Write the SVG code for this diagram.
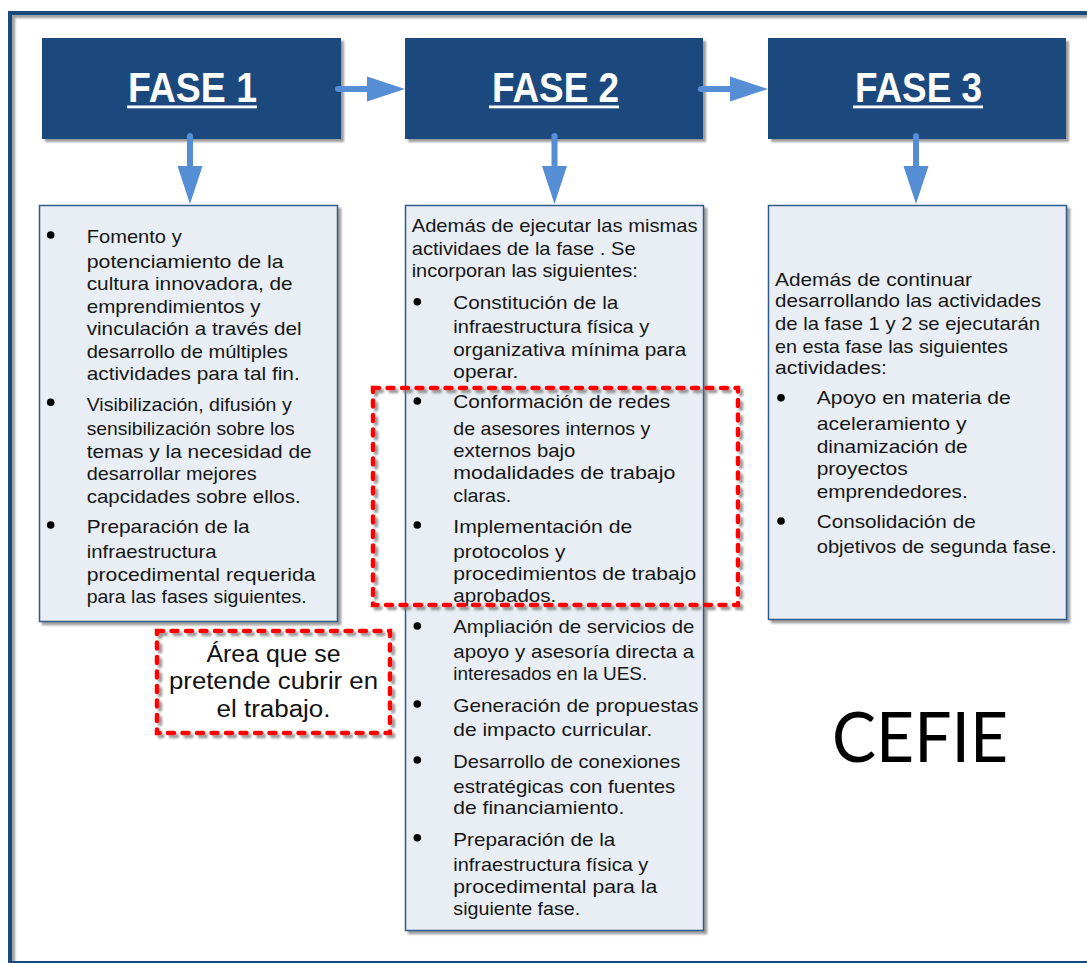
<svg xmlns="http://www.w3.org/2000/svg" width="1087" height="963" viewBox="0 0 1087 963">
  <defs>
    <filter id="shadow" x="-10%" y="-10%" width="120%" height="120%">
      <feDropShadow dx="3" dy="3" stdDeviation="1.2" flood-color="#7a7a7a" flood-opacity="0.75"/>
    </filter>
    <style>
      .frame { fill: none; stroke: #1F497D; stroke-width: 4; }
      .head { fill: #1F497D; }
      .headtxt { font-family: "Liberation Sans", Arial, sans-serif; font-weight: bold; font-size: 42px; fill: #ffffff; }
      .uline { fill: #ffffff; }
      .body { fill: #E8EEF4; stroke: #2F5B8C; stroke-width: 1.5; }
      .t { font-family: "Liberation Sans", Arial, sans-serif; font-size: 19px; fill: #161616; }
      .dot { fill: #000000; }
      .conn { stroke: #558ED5; stroke-width: 6; stroke-linecap: round; fill: none; }
      .tip { fill: #558ED5; }
      .dash { fill: none; stroke: #FF0000; stroke-width: 4.5; stroke-dasharray: 6 8.5; stroke-linecap: round; }
      .note { font-family: "Liberation Sans", Arial, sans-serif; font-size: 23px; fill: #111111; }
      .brand { font-family: Lato, "Liberation Sans", Arial, sans-serif; font-weight: normal; font-size: 70px; fill: #000000; }
    </style>
  </defs>

  <rect width="1087" height="963" fill="#ffffff"/>

  <!-- outer frame -->
  <rect class="frame" x="10" y="13" width="1090" height="950" filter="url(#shadow)"/>

  <!-- phase headers -->
  <g id="fase1">
    <rect class="head" x="42" y="38" width="299" height="101" filter="url(#shadow)"/>
    <text class="headtxt" x="128" y="102" textLength="129" lengthAdjust="spacingAndGlyphs">FASE 1</text>
    <rect class="uline" x="127" y="105.5" width="130" height="2.8"/>
  </g>
  <g id="fase2">
    <rect class="head" x="405" y="38" width="298" height="101" filter="url(#shadow)"/>
    <text class="headtxt" x="492" y="102" textLength="127" lengthAdjust="spacingAndGlyphs">FASE 2</text>
    <rect class="uline" x="489" y="105.5" width="130" height="2.8"/>
  </g>
  <g id="fase3">
    <rect class="head" x="768" y="38" width="298" height="101" filter="url(#shadow)"/>
    <text class="headtxt" x="855" y="102" textLength="127" lengthAdjust="spacingAndGlyphs">FASE 3</text>
    <rect class="uline" x="853" y="105.5" width="130" height="2.8"/>
  </g>

  <!-- phase 1 activities -->
  <g id="actividades1">
    <rect class="body" x="39.5" y="205.5" width="298" height="416" filter="url(#shadow)"/>
    <circle class="dot" cx="50.7" cy="235" r="3.8"/>
    <circle class="dot" cx="50.7" cy="402.3" r="3.8"/>
    <circle class="dot" cx="50.7" cy="525" r="3.8"/>
    <text class="t" x="86.7" y="242.7" textLength="95" lengthAdjust="spacingAndGlyphs">Fomento y</text>
    <text class="t" x="86.7" y="267.7" textLength="197" lengthAdjust="spacingAndGlyphs">potenciamiento de la</text>
    <text class="t" x="86.7" y="290" textLength="206" lengthAdjust="spacingAndGlyphs">cultura innovadora, de</text>
    <text class="t" x="86.7" y="312.7" textLength="174" lengthAdjust="spacingAndGlyphs">emprendimientos y</text>
    <text class="t" x="86.7" y="335" textLength="215" lengthAdjust="spacingAndGlyphs">vinculación a través del</text>
    <text class="t" x="86.7" y="357.7" textLength="201" lengthAdjust="spacingAndGlyphs">desarrollo de múltiples</text>
    <text class="t" x="86.7" y="380" textLength="213" lengthAdjust="spacingAndGlyphs">actividades para tal fin.</text>
    <text class="t" x="86.7" y="411" textLength="205" lengthAdjust="spacingAndGlyphs">Visibilización, difusión y</text>
    <text class="t" x="86.7" y="435.3" textLength="208" lengthAdjust="spacingAndGlyphs">sensibilización sobre los</text>
    <text class="t" x="86.7" y="457.7" textLength="225" lengthAdjust="spacingAndGlyphs">temas y la necesidad de</text>
    <text class="t" x="86.7" y="480" textLength="170" lengthAdjust="spacingAndGlyphs">desarrollar mejores</text>
    <text class="t" x="86.7" y="502.7" textLength="214" lengthAdjust="spacingAndGlyphs">capcidades sobre ellos.</text>
    <text class="t" x="86.7" y="533.3" textLength="163" lengthAdjust="spacingAndGlyphs">Preparación de la</text>
    <text class="t" x="86.7" y="558.3" textLength="130" lengthAdjust="spacingAndGlyphs">infraestructura</text>
    <text class="t" x="86.7" y="581" textLength="229" lengthAdjust="spacingAndGlyphs">procedimental requerida</text>
    <text class="t" x="86.7" y="603.3" textLength="220" lengthAdjust="spacingAndGlyphs">para las fases siguientes.</text>
  </g>

  <!-- phase 2 activities -->
  <g id="actividades2">
    <rect class="body" x="405.5" y="205.5" width="298" height="725" filter="url(#shadow)"/>
    <text class="t" x="411.7" y="232.3" textLength="286" lengthAdjust="spacingAndGlyphs">Además de ejecutar las mismas</text>
    <text class="t" x="411.7" y="255" textLength="224" lengthAdjust="spacingAndGlyphs">actividaes de la fase . Se</text>
    <text class="t" x="411.7" y="277.3" textLength="226" lengthAdjust="spacingAndGlyphs">incorporan las siguientes:</text>
    <circle class="dot" cx="417.3" cy="301.7" r="3.8"/>
    <circle class="dot" cx="417.3" cy="401" r="3.8"/>
    <circle class="dot" cx="417.3" cy="525" r="3.8"/>
    <circle class="dot" cx="417.3" cy="626" r="3.8"/>
    <circle class="dot" cx="417.3" cy="704" r="3.8"/>
    <circle class="dot" cx="417.3" cy="760" r="3.8"/>
    <circle class="dot" cx="417.3" cy="837.7" r="3.8"/>
    <text class="t" x="453.3" y="309" textLength="165" lengthAdjust="spacingAndGlyphs">Constitución de la</text>
    <text class="t" x="453.3" y="333.3" textLength="196" lengthAdjust="spacingAndGlyphs">infraestructura física y</text>
    <text class="t" x="453.3" y="356" textLength="233" lengthAdjust="spacingAndGlyphs">organizativa mínima para</text>
    <text class="t" x="453.3" y="378.3" textLength="65" lengthAdjust="spacingAndGlyphs">operar.</text>
    <text class="t" x="453.3" y="408.3" textLength="217" lengthAdjust="spacingAndGlyphs">Conformación de redes</text>
    <text class="t" x="453.3" y="435" textLength="197" lengthAdjust="spacingAndGlyphs">de asesores internos y</text>
    <text class="t" x="453.3" y="456.7" textLength="122" lengthAdjust="spacingAndGlyphs">externos bajo</text>
    <text class="t" x="453.3" y="479.3" textLength="222" lengthAdjust="spacingAndGlyphs">modalidades de trabajo</text>
    <text class="t" x="453.3" y="501.7" textLength="58" lengthAdjust="spacingAndGlyphs">claras.</text>
    <text class="t" x="453.3" y="532.7" textLength="179" lengthAdjust="spacingAndGlyphs">Implementación de</text>
    <text class="t" x="453.3" y="557.7" textLength="112" lengthAdjust="spacingAndGlyphs">protocolos y</text>
    <text class="t" x="453.3" y="580" textLength="243" lengthAdjust="spacingAndGlyphs">procedimientos de trabajo</text>
    <text class="t" x="453.3" y="601.7" textLength="103" lengthAdjust="spacingAndGlyphs">aprobados.</text>
    <text class="t" x="453.3" y="632.7" textLength="241" lengthAdjust="spacingAndGlyphs">Ampliación de servicios de</text>
    <text class="t" x="453.3" y="657.7" textLength="241" lengthAdjust="spacingAndGlyphs">apoyo y asesoría directa a</text>
    <text class="t" x="453.3" y="680" textLength="194" lengthAdjust="spacingAndGlyphs">interesados en la UES.</text>
    <text class="t" x="453.3" y="711.7" textLength="245" lengthAdjust="spacingAndGlyphs">Generación de propuestas</text>
    <text class="t" x="453.3" y="736" textLength="199" lengthAdjust="spacingAndGlyphs">de impacto curricular.</text>
    <text class="t" x="453.3" y="768.3" textLength="227" lengthAdjust="spacingAndGlyphs">Desarrollo de conexiones</text>
    <text class="t" x="453.3" y="792.7" textLength="222" lengthAdjust="spacingAndGlyphs">estratégicas con fuentes</text>
    <text class="t" x="453.3" y="814.3" textLength="171" lengthAdjust="spacingAndGlyphs">de financiamiento.</text>
    <text class="t" x="453.3" y="845.7" textLength="162" lengthAdjust="spacingAndGlyphs">Preparación de la</text>
    <text class="t" x="453.3" y="870.7" textLength="195" lengthAdjust="spacingAndGlyphs">infraestructura física y</text>
    <text class="t" x="453.3" y="893.3" textLength="204" lengthAdjust="spacingAndGlyphs">procedimental para la</text>
    <text class="t" x="453.3" y="915" textLength="127" lengthAdjust="spacingAndGlyphs">siguiente fase.</text>
  </g>

  <!-- phase 3 activities -->
  <g id="actividades3">
    <rect class="body" x="768.5" y="205.5" width="298" height="414" filter="url(#shadow)"/>
    <text class="t" x="775" y="286" textLength="197" lengthAdjust="spacingAndGlyphs">Además de continuar</text>
    <text class="t" x="775" y="307.3" textLength="266" lengthAdjust="spacingAndGlyphs">desarrollando las actividades</text>
    <text class="t" x="775" y="330" textLength="265" lengthAdjust="spacingAndGlyphs">de la fase 1 y 2 se ejecutarán</text>
    <text class="t" x="775" y="352.7" textLength="233" lengthAdjust="spacingAndGlyphs">en esta fase las siguientes</text>
    <text class="t" x="775" y="374" textLength="112" lengthAdjust="spacingAndGlyphs">actividades:</text>
    <circle class="dot" cx="781" cy="397.7" r="3.8"/>
    <circle class="dot" cx="781" cy="521" r="3.8"/>
    <text class="t" x="816.7" y="404.3" textLength="194" lengthAdjust="spacingAndGlyphs">Apoyo en materia de</text>
    <text class="t" x="816.7" y="430" textLength="150" lengthAdjust="spacingAndGlyphs">aceleramiento y</text>
    <text class="t" x="816.7" y="452.7" textLength="151" lengthAdjust="spacingAndGlyphs">dinamización de</text>
    <text class="t" x="816.7" y="474.5" textLength="91" lengthAdjust="spacingAndGlyphs">proyectos</text>
    <text class="t" x="816.7" y="497.7" textLength="151" lengthAdjust="spacingAndGlyphs">emprendedores.</text>
    <text class="t" x="816.7" y="528.3" textLength="159" lengthAdjust="spacingAndGlyphs">Consolidación de</text>
    <text class="t" x="816.7" y="553.3" textLength="240" lengthAdjust="spacingAndGlyphs">objetivos de segunda fase.</text>
  </g>

  <!-- connectors -->
  <g id="connectors">
    <line class="conn" x1="338" y1="89" x2="369" y2="89"/>
    <polygon class="tip" points="367,76.5 405,89 367,101.5"/>
    <line class="conn" x1="701" y1="89" x2="732" y2="89"/>
    <polygon class="tip" points="730,76.5 768,89 730,101.5"/>
    <line class="conn" x1="190" y1="136" x2="190" y2="168"/>
    <polygon class="tip" points="177.5,166 190,204 202.5,166"/>
    <line class="conn" x1="554.5" y1="136" x2="554.5" y2="168"/>
    <polygon class="tip" points="542,166 554.5,204 567,166"/>
    <line class="conn" x1="916" y1="136" x2="916" y2="168"/>
    <polygon class="tip" points="903.5,166 916,204 928.5,166"/>
  </g>

  <!-- highlighted area -->
  <g id="zona">
    <rect class="dash" x="373" y="388" width="365" height="217" filter="url(#shadow)"/>
  </g>

  <!-- highlight note -->
  <g id="nota">
    <rect class="dash" x="157" y="631" width="233" height="102" filter="url(#shadow)"/>
    <text class="note" x="273.5" y="661.7" text-anchor="middle" textLength="134" lengthAdjust="spacingAndGlyphs">Área que se</text>
    <text class="note" x="273.5" y="689.3" text-anchor="middle" textLength="209" lengthAdjust="spacingAndGlyphs">pretende cubrir en</text>
    <text class="note" x="273.5" y="717.3" text-anchor="middle" textLength="114" lengthAdjust="spacingAndGlyphs">el trabajo.</text>
  </g>

  <!-- brand -->
  <g id="marca">
    <text class="brand" x="832" y="761.7" textLength="176" lengthAdjust="spacingAndGlyphs">CEFIE</text>
  </g>
</svg>
